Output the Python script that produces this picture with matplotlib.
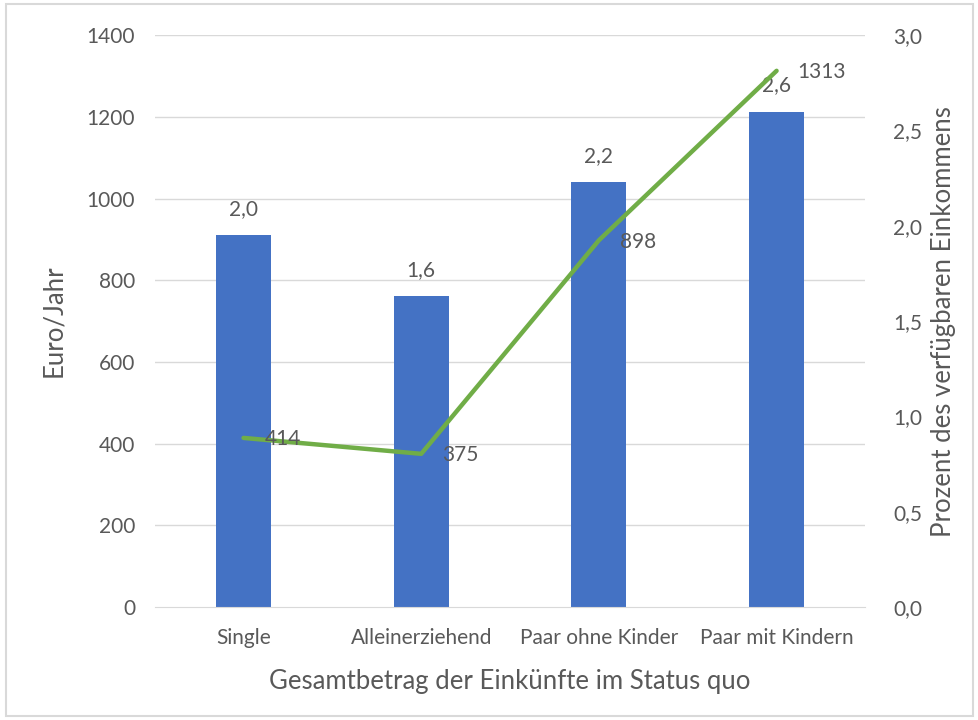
import matplotlib
matplotlib.use("Agg")
import matplotlib.pyplot as plt
from matplotlib.patches import Rectangle

categories = ["Single", "Alleinerziehend", "Paar ohne Kinder", "Paar mit Kindern"]
percent_values = [1.95, 1.63, 2.23, 2.60]
percent_labels = ["2,0", "1,6", "2,2", "2,6"]
euro_values = [414, 375, 898, 1313]
left_ticks = [0, 200, 400, 600, 800, 1000, 1200, 1400]
right_ticks = [0.0, 0.5, 1.0, 1.5, 2.0, 2.5, 3.0]
right_tick_labels = ["0,0", "0,5", "1,0", "1,5", "2,0", "2,5", "3,0"]

plt.rcParams['font.family'] = ['Lato', 'DejaVu Sans']
txt = '#595959'
fs = 15
fs_title = 18.5

fig = plt.figure(figsize=(9.79, 7.2), dpi=100)
fig.patches.append(Rectangle((0.006, 0.006), 0.988, 0.988, transform=fig.transFigure,
                             fill=False, edgecolor='#d9d9d9', linewidth=1.5))
ax = fig.add_axes([0.158, 0.157, 0.726, 0.794])
ax2 = ax.twinx()

x = list(range(len(categories)))
# bars on right axis (percent)
ax2.bar(x, percent_values, width=0.31, color='#4472C4', zorder=2)
for xi, v, lab in zip(x, percent_values, percent_labels):
    ax2.annotate(lab, (xi, v), xytext=(0, 19), textcoords='offset points',
                 ha='center', va='center', color=txt, fontsize=fs)

# line on left axis (euro)
ax2.set_zorder(1)
ax.set_zorder(2)
ax.patch.set_visible(False)
ax.plot(x, euro_values, color='#70AD47', linewidth=3.2, solid_capstyle='round', zorder=3)
for xi, v in zip(x, euro_values):
    ax.annotate(str(v), (xi, v), xytext=(15, -1), textcoords='offset points',
                ha='left', va='center', color=txt, fontsize=fs, zorder=4)

ax.set_xlim(-0.5, 3.5)
ax.set_ylim(0, 1400)
ax2.set_ylim(0, 3.0)
ax.set_yticks(left_ticks)
ax.set_yticklabels([str(t) for t in left_ticks])
ax2.set_yticks(right_ticks)
ax2.set_yticklabels(right_tick_labels)
ax.set_xticks(x)
ax.set_xticklabels(categories)

for a in (ax, ax2):
    for s in a.spines.values():
        s.set_visible(False)
ax2.spines['bottom'].set_visible(True)
ax2.spines['bottom'].set_color('#d9d9d9')
ax.tick_params(axis='y', length=0, pad=14, labelcolor=txt, labelsize=fs)
ax2.tick_params(axis='y', length=0, pad=20, labelcolor=txt, labelsize=fs)
ax.tick_params(axis='x', length=0, pad=15, labelcolor=txt, labelsize=fs)

for t in left_ticks[1:]:
    ax2.axhline(t / 1400 * 3.0, color='#d9d9d9', linewidth=1, zorder=0)

ax.set_ylabel("Euro/Jahr", color=txt, fontsize=fs_title)
ax.yaxis.set_label_coords(-0.125, 0.5)
ax2.set_ylabel("Prozent des verfügbaren Einkommens", color=txt, fontsize=fs_title, labelpad=6)
ax.set_xlabel("Gesamtbetrag der Einkünfte im Status quo", color=txt, fontsize=fs_title, labelpad=15)

fig.savefig("out.png", dpi=100)
